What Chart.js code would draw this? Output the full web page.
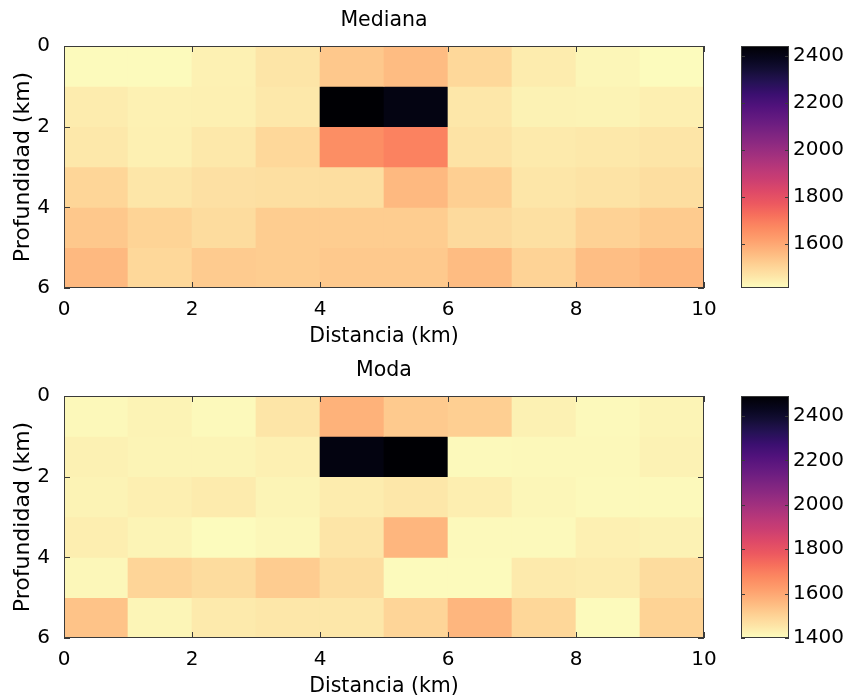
<!DOCTYPE html>
<html>
<head>
<meta charset="utf-8">
<script src="https://cdn.jsdelivr.net/npm/chart.js@4.4.1/dist/chart.umd.min.js"></script>
<style>
  body { margin: 0; background: #fff; }
  #wrap { position: relative; width: 848px; height: 700px; }
  canvas { position: absolute; }
</style>
</head>
<body>
<div id="wrap">
  <canvas id="mapa1" width="730" height="350" style="left:0;top:0"></canvas>
  <canvas id="barra1" width="118" height="350" style="left:730px;top:0"></canvas>
  <canvas id="mapa2" width="730" height="350" style="left:0;top:350px"></canvas>
  <canvas id="barra2" width="118" height="350" style="left:730px;top:350px"></canvas>
</div>
<script>
// bordes de las celdas (km)
var distancia = [0, 1, 2, 3, 4, 5, 6, 7, 8, 9, 10];
var profundidad = [0, 1, 2, 3, 4, 5, 6];
var ticksDist = [0, 2, 4, 6, 8, 10];
var ticksProf = [0, 2, 4, 6];

// una fila por cada km de profundidad, una columna por cada km de distancia
var mediana = [
  [1420, 1420, 1440, 1465, 1532, 1558, 1496, 1450, 1430, 1419],
  [1450, 1440, 1442, 1460, 2441, 2410, 1462, 1438, 1436, 1445],
  [1458, 1442, 1458, 1496, 1660, 1686, 1470, 1455, 1458, 1466],
  [1501, 1463, 1476, 1480, 1482, 1563, 1517, 1463, 1470, 1482],
  [1532, 1506, 1487, 1522, 1522, 1522, 1490, 1478, 1510, 1526],
  [1563, 1496, 1525, 1522, 1530, 1530, 1558, 1508, 1553, 1570]
];
var moda = [
  [1411, 1422, 1410, 1455, 1575, 1520, 1509, 1427, 1410, 1420],
  [1427, 1420, 1420, 1430, 2463, 2490, 1410, 1411, 1412, 1425],
  [1422, 1432, 1440, 1420, 1438, 1449, 1434, 1415, 1410, 1408],
  [1435, 1420, 1404, 1413, 1455, 1565, 1408, 1410, 1430, 1425],
  [1413, 1493, 1477, 1515, 1475, 1406, 1406, 1444, 1438, 1478],
  [1536, 1418, 1444, 1450, 1450, 1493, 1565, 1490, 1406, 1500]
];

var limMediana = [1414, 2441];
var limModa = [1400, 2490];
var ticksMediana = [1600, 1800, 2000, 2200, 2400];
var ticksModa = [1400, 1600, 1800, 2000, 2200, 2400];

Chart.defaults.font.family = 'DejaVu Sans';
Chart.defaults.color = '#000';
Chart.defaults.animation = false;

// magma (matplotlib), de 0 a 1
var magmaStops = ['#000004', '#07061c', '#140e36', '#251255', '#3b0f70', '#51127c', '#641a80',
  '#782281', '#8c2981', '#a1307e', '#b73779', '#ca3e72', '#de4968', '#ec5860', '#f7705c',
  '#fc8961', '#fe9f6d', '#feb77e', '#fecf92', '#fde5a7', '#fcfdbf'];
function hexRgb(h) { return [parseInt(h.substr(1, 2), 16), parseInt(h.substr(3, 2), 16), parseInt(h.substr(5, 2), 16)]; }
var magmaRgb = magmaStops.map(hexRgb);
function magma(t) {
  t = Math.max(0, Math.min(1, t));
  var p = t * (magmaRgb.length - 1), i = Math.min(Math.floor(p), magmaRgb.length - 2), f = p - i;
  var a = magmaRgb[i], b = magmaRgb[i + 1];
  return 'rgb(' + [0, 1, 2].map(function(k) { return Math.round(a[k] + (b[k] - a[k]) * f); }).join(',') + ')';
}
function colorDe(v, lim) { return magma(1 - (v - lim[0]) / (lim[1] - lim[0])); }

function fijarTicks(lista) {
  return function(s) { s.ticks = lista.map(function(v) { return { value: v }; }); };
}
function sinComa(v) { return String(v); }

// marco y marcas hacia dentro, como en MATLAB
var marco = {
  id: 'marco',
  afterDatasetsDraw: function(chart, args, opts) {
    var a = chart.chartArea, c = chart.ctx, L = opts.len || 6;
    c.save();
    c.strokeStyle = '#3a3a3a';
    c.lineWidth = 1;
    c.beginPath();
    ['x', 'y'].forEach(function(k) {
      var s = chart.scales[k];
      if (!s || !s.options.display) return;
      s.ticks.forEach(function(t) {
        var p = Math.round(s.getPixelForValue(t.value)) + 0.5;
        if (s.isHorizontal()) {
          c.moveTo(p, a.top); c.lineTo(p, a.top + L);
          c.moveTo(p, a.bottom); c.lineTo(p, a.bottom - L);
        } else {
          c.moveTo(a.left, p); c.lineTo(a.left + L, p);
          c.moveTo(a.right, p); c.lineTo(a.right - L, p);
        }
      });
    });
    c.stroke();
    c.strokeRect(a.left + 0.5, a.top + 0.5, a.right - a.left - 1, a.bottom - a.top - 1);
    c.restore();
  }
};

function mapa(id, titulo, valores, lim) {
  var datasets = valores.map(function(fila, r) {
    return {
      data: fila.map(function(v, c) {
        return { x: (distancia[c] + distancia[c + 1]) / 2, y: [profundidad[r], profundidad[r + 1]] };
      }),
      backgroundColor: fila.map(function(v) { return colorDe(v, lim); }),
      xAxisID: 'x',
      yAxisID: 'y',
      borderWidth: 0,
      grouped: false,
      barPercentage: 1,
      categoryPercentage: 1
    };
  });
  return new Chart(document.getElementById(id), {
    type: 'bar',
    data: { datasets: datasets },
    options: {
      responsive: false,
      layout: { padding: { left: 0, right: 26, top: 0, bottom: 0 } },
      plugins: {
        legend: { display: false },
        tooltip: { enabled: false },
        marco: { len: 6 }
      },
      scales: {
        x: {
          type: 'linear', min: 0, max: 10, offset: false,
          grid: { display: false, drawTicks: false, offset: false }, border: { display: false },
          ticks: { padding: 10, font: { size: 20 }, maxRotation: 0 },
          afterBuildTicks: fijarTicks(ticksDist),
          title: { display: true, text: 'Distancia (km)', font: { size: 20.5 }, padding: { top: 0, bottom: 1 } },
          afterFit: function(s) { s.height = 62; }
        },
        y: {
          type: 'linear', reverse: true, min: 0, max: 6,
          grid: { display: false, drawTicks: false }, border: { display: false },
          ticks: { padding: 14, font: { size: 20 } },
          afterBuildTicks: fijarTicks(ticksProf),
          title: { display: true, text: 'Profundidad (km)', font: { size: 22 }, padding: { top: 10, bottom: 0 } },
          afterFit: function(s) { s.width = 64; }
        },
        // eje superior vacío, solo para centrar el título sobre el área del gráfico
        t: {
          axis: 'x', position: 'top', type: 'linear', min: 0, max: 10,
          grid: { display: false, drawTicks: false }, border: { display: false },
          ticks: { display: false },
          afterBuildTicks: fijarTicks(ticksDist),
          title: { display: true, text: titulo, font: { size: 20.5 }, padding: { top: 8, bottom: 14 } },
          afterFit: function(s) { s.height = 46; }
        }
      }
    },
    plugins: [marco]
  });
}

function barra(id, lim, marcas) {
  return new Chart(document.getElementById(id), {
    type: 'bar',
    data: {
      labels: [''],
      datasets: [{
        data: [lim],
        backgroundColor: function(ctx) {
          var ch = ctx.chart, s = ch.scales.y;
          if (!ch.chartArea || !s) return '#fff';
          var g = ch.ctx.createLinearGradient(0, s.getPixelForValue(lim[0]), 0, s.getPixelForValue(lim[1]));
          for (var i = 0; i <= 40; i++) g.addColorStop(i / 40, magma(1 - i / 40));
          return g;
        },
        borderWidth: 0,
        barPercentage: 1,
        categoryPercentage: 1
      }]
    },
    options: {
      responsive: false,
      layout: { padding: { left: 11, top: 46, bottom: 62, right: 0 } },
      plugins: { legend: { display: false }, tooltip: { enabled: false }, marco: { len: 4 } },
      scales: {
        x: { display: false },
        y: {
          position: 'right', min: lim[0], max: lim[1],
          grid: { display: false, drawTicks: false }, border: { display: false },
          ticks: { padding: 4, font: { size: 20 }, callback: sinComa },
          afterBuildTicks: fijarTicks(marcas),
          afterFit: function(s) { s.width = 59; }
        }
      }
    },
    plugins: [marco]
  });
}

mapa('mapa1', 'Mediana', mediana, limMediana);
barra('barra1', limMediana, ticksMediana);
mapa('mapa2', 'Moda', moda, limModa);
barra('barra2', limModa, ticksModa);
</script>
</body>
</html>
